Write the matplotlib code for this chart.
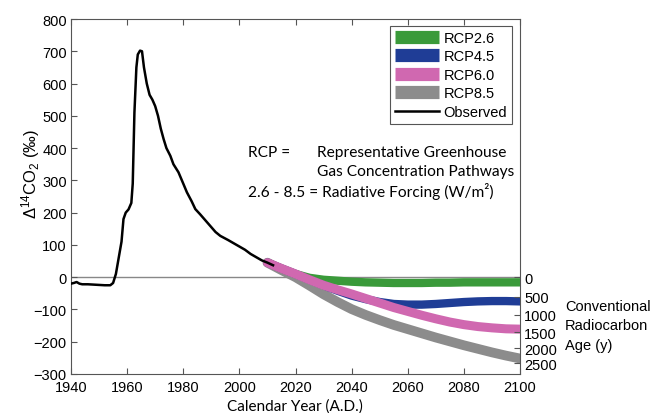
import numpy as np
import matplotlib
matplotlib.use('agg')
import matplotlib.pyplot as plt
from matplotlib.lines import Line2D

# observed atmospheric D14CO2 (permil)
obs_year = [1940, 1941, 1942, 1943, 1944, 1946, 1948, 1950, 1952, 1954, 1955, 1956, 1957,
            1958, 1958.7, 1959.5, 1960.5, 1961.5, 1962, 1962.6, 1963.3, 1963.8, 1964.6,
            1965.3, 1966, 1967, 1968, 1969, 1970, 1971, 1972, 1973, 1974, 1975.4, 1976.5,
            1978.3, 1980, 1981.3, 1983, 1984.3, 1986, 1988, 1989.6, 1991.5, 1993.2, 1996,
            1998, 2000, 2002, 2004, 2006, 2008, 2010, 2012]
obs_val = [-20, -18, -15, -20, -22, -22, -23, -24, -25, -25, -18, 10, 60,
           110, 180, 200, 210, 230, 290, 510, 650, 690, 702,
           700, 650, 600, 565, 550, 530, 500, 460, 428, 400, 376, 350,
           325, 290, 263, 235, 211, 195, 175, 159, 140, 128, 115,
           105, 95, 85, 72, 62, 52, 45, 37]

# scenario projections
rcp_year = [2010, 2015, 2020, 2025, 2030, 2035, 2040, 2045, 2050, 2055, 2060,
            2065, 2070, 2075, 2080, 2085, 2090, 2095, 2100]
rcp26 = [45, 27, 10, -2, -8, -11, -14, -16, -17, -18, -18, -18, -17, -17, -16, -16, -16, -16, -16]
rcp45 = [45, 27, 10, -8, -25, -42, -57, -68, -77, -83, -85, -85, -83, -80, -77, -75, -74, -74, -75]
rcp60 = [45, 27, 10, -8, -25, -39, -52, -66, -80, -94, -106, -118, -129, -139, -147, -153, -157, -160, -161]
rcp85 = [45, 22, 0, -26, -53, -77, -99, -117, -133, -148, -161, -174, -187, -199, -211, -222, -233, -243, -252]

ages = [0, 500, 1000, 1500, 2000, 2500]

plt.rcParams['font.family'] = ['Liberation Sans', 'DejaVu Sans']
plt.rcParams['mathtext.fontset'] = 'custom'
plt.rcParams['mathtext.rm'] = 'Liberation Sans'
plt.rcParams['mathtext.it'] = 'Liberation Sans'

fig = plt.figure(figsize=(6.55, 4.14), dpi=100)
ax = fig.add_axes([71 / 655, 1 - 375 / 414, 449 / 655, 355 / 414])

ax.axhline(0, color='#888888', lw=1.0, zorder=1)
ax.plot(rcp_year, rcp85, color='#8c8c8c', lw=7, solid_capstyle='round', zorder=2)
ax.plot(rcp_year, rcp26, color='#3a9a3a', lw=6, solid_capstyle='round', zorder=3)
ax.plot(rcp_year, rcp45, color='#1f3d96', lw=6, solid_capstyle='round', zorder=4)
ax.plot(rcp_year, rcp60, color='#d068b0', lw=6.5, solid_capstyle='round', zorder=5)
ax.plot(obs_year, obs_val, color='black', lw=1.8, zorder=6)

ax.set_xlim(1940, 2100)
ax.set_ylim(-300, 800)
ax.set_xticks(range(1940, 2101, 20))
ax.set_yticks(range(-300, 801, 100))
for s in ax.spines.values():
    s.set_color('#555555')
    s.set_linewidth(0.8)
ax.tick_params(direction='in', length=4, color='#555555', labelsize=10.5, top=True)
ax.tick_params(axis='x', pad=4.5)
ax.tick_params(axis='y', pad=3)

# right axis in radiocarbon age
ax2 = ax.twinx()
ax2.set_ylim(-300, 800)
ax2.set_yticks([1000 * (np.exp(-a / 8033.0) - 1) for a in ages])
ax2.set_yticklabels([str(a) for a in ages])
ax2.tick_params(direction='in', length=4, color='#555555', labelsize=10.5, pad=3)
for s in ax2.spines.values():
    s.set_visible(False)

handles = [Line2D([], [], color='#3a9a3a', lw=9.5, solid_capstyle='butt'),
           Line2D([], [], color='#1f3d96', lw=9.5, solid_capstyle='butt'),
           Line2D([], [], color='#d068b0', lw=9.5, solid_capstyle='butt'),
           Line2D([], [], color='#8c8c8c', lw=9.5, solid_capstyle='butt'),
           Line2D([], [], color='black', lw=1.8)]
leg = fig.legend(handles, ['RCP2.6', 'RCP4.5', 'RCP6.0', 'RCP8.5', 'Observed'],
                 loc='upper right', bbox_to_anchor=(512 / 655, 1 - 27 / 414),
                 borderaxespad=0, fontsize=10.5, fancybox=False, framealpha=1,
                 edgecolor='#555555', handlelength=3.0, handletextpad=0.3,
                 labelspacing=0.3, borderpad=0.35)
leg.get_frame().set_linewidth(0.8)

ann = dict(family=['Lato', 'DejaVu Sans'], fontsize=11.2, va='center', ha='left')
fig.text(248 / 655, 1 - 153 / 414, 'RCP =', **ann)
fig.text(317 / 655, 1 - 153 / 414, 'Representative Greenhouse', **ann)
fig.text(317 / 655, 1 - 172 / 414, 'Gas Concentration Pathways', **ann)
fig.text(248 / 655, 1 - 191 / 414, '2.6 - 8.5 = Radiative Forcing (W/m\u00b2)', **ann)

fig.text(295 / 655, 1 - 407 / 414, 'Calendar Year (A.D.)', family=['Lato', 'DejaVu Sans'],
         fontsize=11, ha='center', va='center')
fig.text(31 / 655, 1 - 174 / 414, '\u0394$^{14}$CO$_2$ (\u2030)', rotation=90,
         fontsize=12, ha='center', va='center')

for i, t in enumerate(['Conventional', 'Radiocarbon', 'Age (y)']):
    fig.text(565 / 655, 1 - (307 + 19.5 * i) / 414, t, fontsize=10.5, ha='left', va='center')

fig.savefig('out.png', dpi=100)
